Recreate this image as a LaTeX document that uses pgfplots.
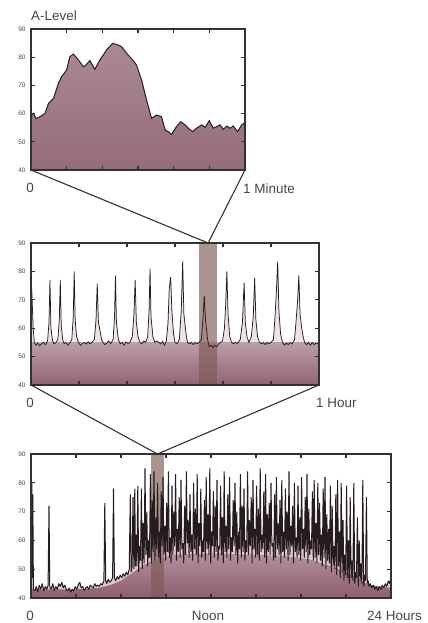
\documentclass[border=0pt]{standalone}
\usepackage{fontspec}
\setmainfont{Liberation Sans}
\usepackage{pgfplots}
\usepackage{pgfplotstable}
\pgfplotsset{compat=1.18}
\usetikzlibrary{fadings}

\definecolor{wine}{RGB}{114,58,80}
\definecolor{wineedge}{RGB}{200,170,182}
\definecolor{ink}{RGB}{38,28,30}
\definecolor{frame}{RGB}{50,50,50}
\definecolor{band}{RGB}{125,90,85}
\definecolor{spikefill}{RGB}{222,202,209}
\definecolor{labelgray}{RGB}{70,70,70}

\pgfdeclarehorizontalshading{edgefade}{100bp}{color(0bp)=(wineedge); color(9bp)=(wine); color(91bp)=(wine); color(100bp)=(wineedge)}
\tikzfading[name=vfade, top color=transparent!40, middle color=transparent!0, bottom color=transparent!25]
\tikzfading[name=envfade, top color=transparent!60, middle color=transparent!0, bottom color=transparent!25]

\pgfplotsset{
  panel/.style={
    scale only axis, anchor=south west, axis on top,
    ymin=40, ymax=90, ytick={40,50,...,90},
    tick align=inside, tick pos=both,
    axis line style={frame, line width=1.1bp},
    major tick length=4bp,
    every tick/.style={frame, line width=1.1bp},
    xticklabels={},
    yticklabel style={font=\fontsize{6.5}{7}\selectfont, text=labelgray, xshift=-2bp},
    /pgf/number format/assume math mode=true,
  },
}
\tikzset{lbl/.style={font=\fontsize{13.5}{15}\selectfont, text=labelgray, inner sep=0pt}}

% one minute (seconds, A-level)
\pgfplotstableread[row sep=\\]{
x y\\
0 59.5\\0.65 60.1\\1.4 58.3\\2.5 58.9\\3.9 60\\4.9 63.6\\6.3 65.4\\7.7 70.7\\8.6 73.1\\10 75.5\\
10.9 80.2\\11.9 81.1\\13.3 79\\14.7 76.6\\15.4 77.2\\16.5 78.8\\17.9 75.7\\19.3 79\\21.2 82.6\\22.9 84.9\\
24.5 84.3\\25.4 83.7\\26.8 81.4\\28.5 79\\29.6 77.2\\31 71.9\\32.4 64.8\\33.8 58.3\\35.2 59.5\\36.6 58.9\\
37.6 54.2\\38.5 53.6\\39.4 52.6\\40.8 55.4\\42 57.1\\43.2 56\\44.1 54.8\\45.3 53.6\\46.4 54.8\\47.9 56\\
48.8 55.1\\50 57.5\\51.1 54.8\\52.1 55.4\\53 56\\53.9 54.4\\54.9 55.6\\55.8 54.8\\56.7 55.6\\57.9 53.6\\
59.1 56\\60 56.8\\
}\tabMinute

% one hour (minutes)
\pgfplotstableread[row sep=\\]{
x y\\
0 72\\0.15 74\\0.45 60\\0.7 55\\1.0 54\\1.4 54.8\\1.8 53.8\\2.2 54.5\\2.6 55\\3.0 54.2\\
3.45 55.5\\3.75 62\\3.95 77\\4.15 60\\4.5 55.5\\4.8 54.5\\5.2 55\\5.6 56\\5.9 63\\6.1 77\\
6.3 61\\6.6 56\\6.9 54.5\\7.3 55\\7.7 54\\8.1 54.8\\8.5 56\\8.8 64\\9.0 80\\9.2 63\\
9.5 57\\9.9 55\\10.3 54\\10.7 54.6\\11.1 55\\11.5 54.4\\11.9 55.2\\12.3 54.5\\12.7 55\\13.2 56\\
13.55 63\\13.8 75.7\\14.05 62\\14.4 59\\14.7 56\\15.0 55\\15.4 54.2\\15.8 54.8\\16.2 55.5\\16.6 54.5\\
17.1 56\\17.4 64\\17.6 78.5\\17.8 62\\18.2 56\\18.6 54.5\\19.0 55\\19.4 54\\19.8 55.2\\20.2 54.6\\
20.6 55\\21.1 57\\21.45 65\\21.7 77\\21.95 62\\22.3 57\\22.7 55\\23.1 54.5\\23.5 55.5\\23.9 55\\
24.3 57\\24.6 66\\24.8 81\\25.0 64\\25.4 57\\25.8 55\\26.2 55.5\\26.6 55\\27.0 54.5\\27.4 55.3\\
27.8 54\\28.2 55.5\\28.55 62\\28.8 74\\29.1 78\\29.35 66\\29.7 58\\30.0 55\\30.4 54.5\\30.9 56\\
31.3 66\\31.6 83.5\\31.85 65\\32.3 58\\32.6 55\\33.0 54.5\\33.4 55\\33.8 54.2\\34.2 55\\34.6 54.5\\
35.0 55\\35.5 56\\35.85 64\\36.1 71.5\\36.35 63\\36.8 56\\37.1 53.5\\37.5 54\\37.9 53.2\\38.3 54\\
38.7 53.5\\39.1 54.5\\39.5 55\\39.9 55.5\\40.3 60\\40.55 68\\40.8 80\\41.05 65\\41.4 57\\41.8 55\\
42.2 54.5\\42.6 55\\43.0 54.6\\43.6 56\\44.05 62\\44.4 76\\44.65 62\\45.0 57\\45.4 55\\45.9 57\\
46.3 64\\46.6 77.8\\46.85 63\\47.2 57\\47.6 55\\48.0 54.5\\48.4 55\\48.8 54.2\\49.2 55\\49.6 54.5\\
50.0 55\\50.5 56\\50.8 63\\51.1 72\\51.4 83.5\\51.65 66\\52.0 58\\52.4 55\\52.8 54\\53.2 54.8\\
53.6 54.2\\54.0 55\\54.4 54.5\\54.9 56\\55.2 62\\55.55 70\\55.8 78.6\\56.05 65\\56.4 60\\56.7 57\\
57.0 55\\57.4 54.2\\57.8 55\\58.2 54\\58.6 55\\59.0 54.2\\59.4 54.8\\60 54.3\\
}\tabHour

% 24 hours (hours)
\pgfplotstableread[row sep=\\]{
x y\\
0.00 79\\0.03 46\\0.06 80\\0.09 47\\0.12 76\\0.16 43\\0.25 42.5\\0.35 44\\0.45 42\\0.55 44.5\\
0.65 43\\0.75 45\\0.85 42.5\\0.95 44\\1.05 43\\1.14 44.5\\1.20 72\\1.25 44\\1.35 43\\1.45 45\\
1.55 42.5\\1.65 44\\1.75 43\\1.85 45\\1.95 44\\2.05 45.5\\2.15 43.5\\2.25 44.5\\2.35 43\\2.45 42.5\\
2.55 43.5\\2.65 42\\2.75 43\\2.85 42.5\\2.95 44\\3.05 43\\3.15 44.5\\3.25 45.5\\3.35 43.5\\3.45 44\\
3.55 42.5\\3.65 43.5\\3.75 44\\3.85 43\\3.95 44.5\\4.05 44\\4.15 43.5\\4.25 45\\4.35 44\\4.45 44.5\\
4.55 44\\4.65 45\\4.75 44.5\\4.86 46\\4.92 73\\4.98 46\\5.05 45\\5.15 46.5\\5.25 45.5\\5.35 46\\
5.44 47\\5.50 78\\5.56 47\\5.65 46\\5.75 47.5\\5.85 46.5\\5.95 48\\6.05 47\\6.15 48.5\\6.25 47.5\\
6.35 49\\6.45 48\\6.55 50\\6.62 76\\6.68 49\\6.74 51\\6.80 75\\6.86 50\\6.92 78\\6.96 51\\
7.00 62\\7.06 51\\7.12 79\\7.18 49\\7.24 58\\7.30 53\\7.36 78\\7.42 50\\7.48 66\\7.54 52\\
7.60 85\\7.66 55\\7.72 70\\7.78 51\\7.84 60\\7.90 54\\7.96 83\\8.02 52\\8.08 74\\8.14 56\\
8.20 84\\8.26 53\\8.32 68\\8.38 57\\8.44 80\\8.50 54\\8.56 63\\8.62 52\\8.68 77\\8.74 58\\
8.80 82\\8.86 55\\8.92 65\\8.98 53\\9.04 73\\9.10 56\\9.16 84\\9.22 54\\9.28 61\\9.34 52\\
9.40 79\\9.46 55\\9.52 70\\9.58 58\\9.64 83\\9.70 53\\9.76 64\\9.82 56\\9.88 75\\9.94 54\\
10.00 81\\10.06 57\\10.12 59\\10.18 52\\10.24 72\\10.30 55\\10.36 84\\10.42 59\\10.48 67\\10.54 54\\
10.60 76\\10.66 56\\10.72 62\\10.78 53\\10.84 80\\10.90 57\\10.96 71\\11.02 55\\11.08 83\\11.14 52\\
11.20 66\\11.26 58\\11.32 78\\11.38 54\\11.44 60\\11.50 56\\11.56 74\\11.62 53\\11.68 82\\11.74 57\\
11.80 69\\11.86 55\\11.92 85\\11.98 52\\12.04 63\\12.10 58\\12.16 77\\12.22 54\\12.28 72\\12.34 56\\
12.40 81\\12.46 53\\12.52 58\\12.58 57\\12.64 79\\12.70 55\\12.76 68\\12.82 52\\12.88 84\\12.94 56\\
13.00 65\\13.06 54\\13.12 76\\13.18 57\\13.24 82\\13.30 53\\13.36 61\\13.42 56\\13.48 74\\13.54 58\\
13.60 80\\13.66 55\\13.72 70\\13.78 52\\13.84 63\\13.90 57\\13.96 83\\14.02 54\\14.08 72\\14.14 56\\
14.20 78\\14.26 53\\14.32 60\\14.38 56\\14.44 84\\14.50 55\\14.56 67\\14.62 58\\14.68 75\\14.74 52\\
14.80 81\\14.86 57\\14.92 64\\14.98 54\\15.04 79\\15.10 55\\15.16 71\\15.22 53\\15.28 85\\15.34 56\\
15.40 62\\15.46 57\\15.52 77\\15.58 54\\15.64 83\\15.70 52\\15.76 69\\15.82 56\\15.88 73\\15.94 55\\
16.00 80\\16.06 58\\16.12 59\\16.18 53\\16.24 76\\16.30 54\\16.36 82\\16.42 57\\16.48 66\\16.54 55\\
16.60 74\\16.66 52\\16.72 81\\16.78 56\\16.84 63\\16.90 54\\16.96 78\\17.02 57\\17.08 70\\17.14 53\\
17.20 84\\17.26 55\\17.32 65\\17.38 58\\17.44 72\\17.50 52\\17.56 80\\17.62 56\\17.68 61\\17.74 54\\
17.80 79\\17.86 55\\17.92 68\\17.98 53\\18.04 82\\18.10 57\\18.16 64\\18.22 54\\18.28 75\\18.34 56\\
18.40 83\\18.46 52\\18.52 71\\18.58 55\\18.64 60\\18.70 57\\18.76 77\\18.82 53\\18.88 81\\18.94 54\\
19.00 66\\19.06 52\\19.12 80\\19.18 55\\19.24 73\\19.30 53\\19.36 62\\19.42 51\\19.48 78\\19.54 54\\
19.60 82\\19.66 50\\19.72 69\\19.78 53\\19.84 64\\19.90 52\\19.96 79\\20.02 49\\20.08 72\\20.14 51\\
20.20 58\\20.26 50\\20.32 76\\20.38 48\\20.44 81\\20.50 51\\20.56 63\\20.62 47\\20.68 80\\20.74 49\\
20.80 67\\20.86 46\\20.92 55\\20.98 48\\21.04 79\\21.10 47\\21.16 60\\21.22 45\\21.28 75\\21.34 47\\
21.40 53\\21.46 46\\21.52 80\\21.58 45\\21.64 49\\21.70 47\\21.76 68\\21.82 44\\21.88 60\\21.94 46\\
22.00 52\\22.06 45\\22.12 81\\22.18 44\\22.24 48\\22.30 46\\22.36 75\\22.42 45\\22.48 46\\22.54 44\\
22.62 45\\22.72 43.5\\22.82 44.5\\22.92 43\\23.02 44\\23.12 42.5\\23.22 44\\23.32 43\\23.42 44.5\\23.52 43.5\\
23.62 45\\23.72 44\\23.82 46\\23.90 45\\24.00 47\\
}\tabDay

% smoothed level under the day trace
\pgfplotstableread[row sep=\\]{
x y\\
0 40\\0 43\\3 43\\4.5 43.5\\5.3 44.5\\6 46\\6.7 48.5\\7.5 51.5\\8.5 53.5\\9.5 55\\
12 55.5\\15 55\\17 54.5\\18.5 53.5\\20 51\\21 49\\22 46\\22.6 44.5\\24 43.5\\24 40\\
}\tabDayLevel

\begin{document}
\begin{tikzpicture}
\useasboundingbox (0,0) rectangle (428bp,623bp);

% ---- 1 minute
\begin{axis}[panel, at={(31bp,453bp)}, width=214bp, height=141bp,
  xmin=0, xmax=60, xtick={0,10,...,60}]
  \addplot[draw=none, shade, shading=edgefade, path fading=vfade] table {\tabMinute} -- (60,40) -- (0,40) -- cycle;
  \addplot[ink, line width=1bp] table {\tabMinute};
  \coordinate (p1sw) at (rel axis cs:0,0);
  \coordinate (p1se) at (rel axis cs:1,0);
\end{axis}

% ---- 1 hour
\begin{axis}[panel, at={(31bp,238bp)}, width=288bp, height=142bp,
  xmin=0, xmax=60, xtick={0,10,...,60}]
  \addplot[draw=none, fill=spikefill!55!white] table {\tabHour} -- (60,40) -- (0,40) -- cycle;
  \addplot[draw=none, shade, shading=edgefade, path fading=envfade] coordinates {(0,40) (0,55) (60,55) (60,40)} -- cycle;
  \addplot[draw=none, fill=band, fill opacity=0.65] coordinates {(35,40) (35,90) (38.75,90) (38.75,40)} -- cycle;
  \addplot[ink, line width=0.75bp] table {\tabHour};
  \coordinate (p2top) at (axis cs:36.9,90);
  \coordinate (p2sw) at (rel axis cs:0,0);
  \coordinate (p2se) at (rel axis cs:1,0);
\end{axis}

% ---- 24 hours
\begin{axis}[panel, at={(31bp,25bp)}, width=360bp, height=144bp,
  xmin=0, xmax=24, xtick={0,3,...,24}]
  \addplot[draw=none, fill=spikefill] table {\tabDay} -- (24,40) -- (0,40) -- cycle;
  \addplot[draw=none, shade, shading=edgefade, path fading=envfade] table {\tabDayLevel} -- cycle;
  \addplot[draw=none, fill=band, fill opacity=0.65] coordinates {(8,40) (8,90) (8.87,90) (8.87,40)} -- cycle;
  \addplot[ink, line width=1bp, line join=bevel] table {\tabDay};
  \coordinate (p3top) at (axis cs:8.43,90);
\end{axis}

\draw[frame, line width=1.1bp] (p1sw) -- (p2top) -- (p1se);
\draw[frame, line width=1.1bp] (p2sw) -- (p3top) -- (p2se);

\node[lbl, anchor=base west] at (31bp,602.5bp) {A-Level};
\node[lbl, anchor=base] at (30bp,430bp) {0};
\node[lbl, anchor=base west] at (243bp,429.5bp) {1 Minute};
\node[lbl, anchor=base] at (30bp,215bp) {0};
\node[lbl, anchor=base west] at (316bp,215bp) {1 Hour};
\node[lbl, anchor=base] at (30bp,2.5bp) {0};
\node[lbl, anchor=base] at (208bp,2.5bp) {Noon};
\node[lbl, anchor=base west] at (367bp,2.5bp) {24 Hours};
\end{tikzpicture}
\end{document}
